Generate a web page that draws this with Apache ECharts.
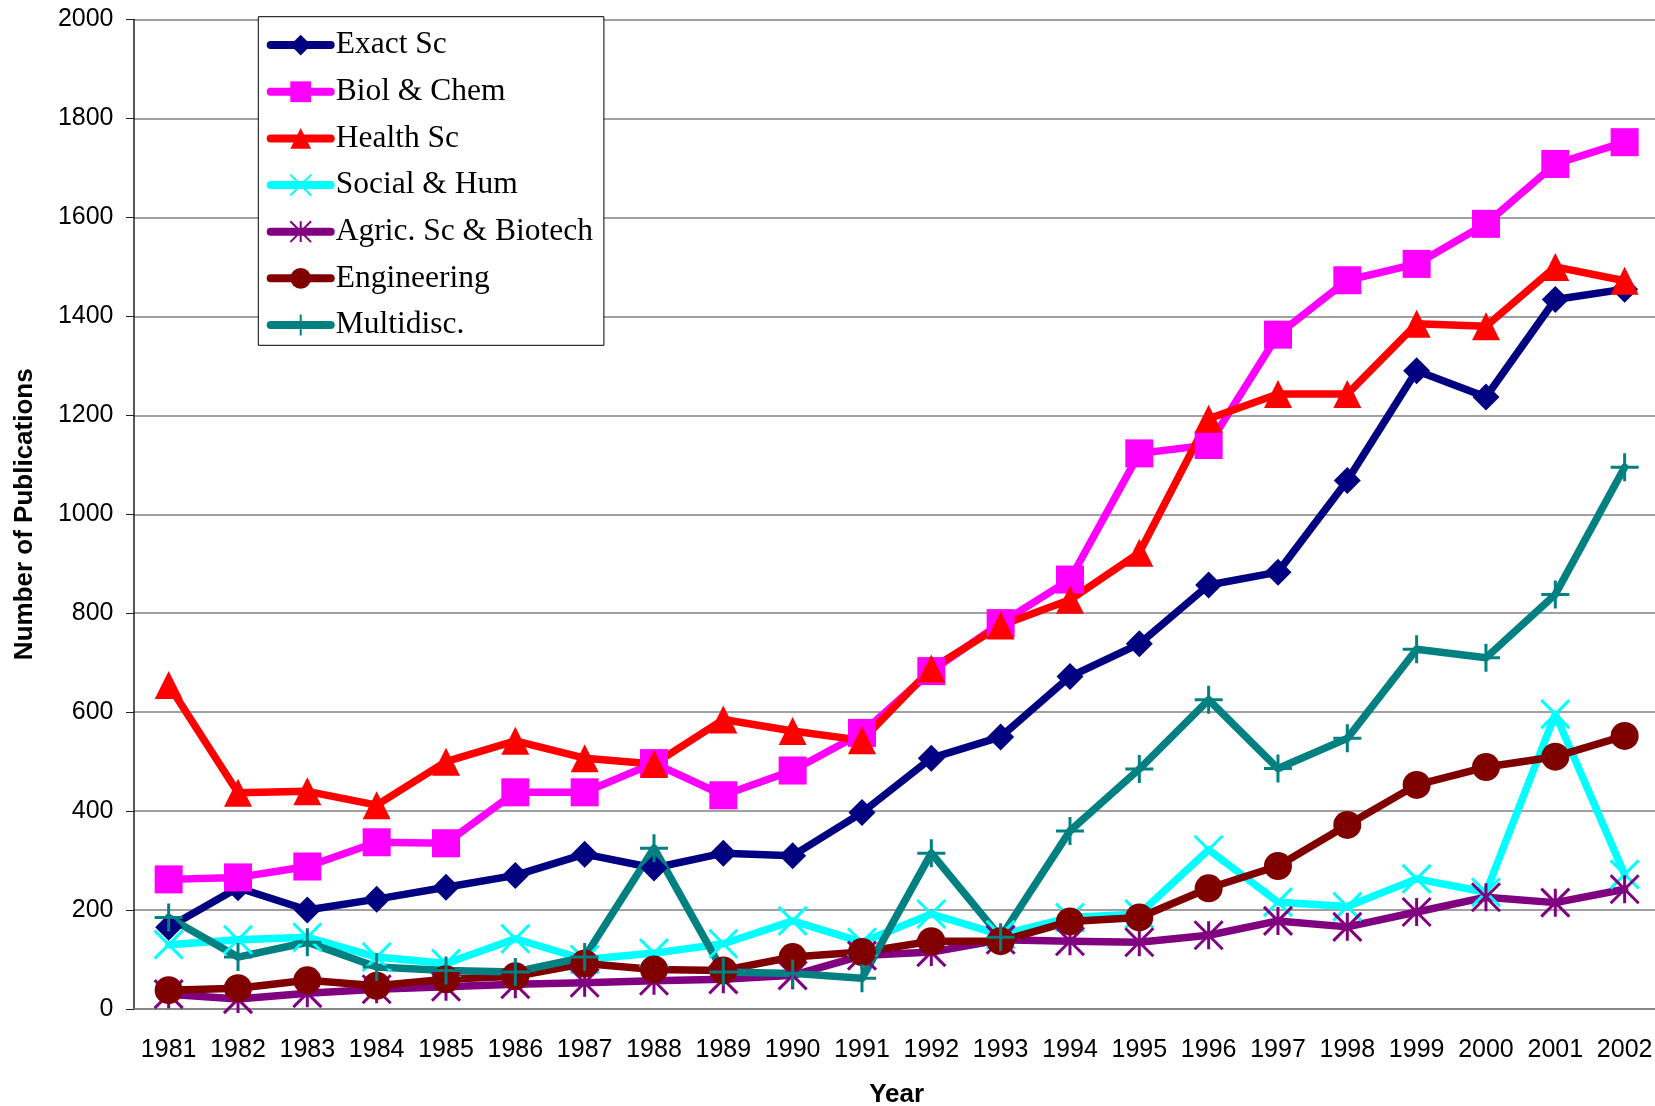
<!DOCTYPE html>
<html>
<head>
<meta charset="utf-8">
<title>Number of Publications by Field, 1981-2002</title>
<script src="https://cdn.jsdelivr.net/npm/echarts@6/dist/echarts.min.js"></script>
<style>
  html, body { margin: 0; padding: 0; background: #ffffff; }
  #chart { width: 1655px; height: 1106px; }
</style>
</head>
<body>
<div id="chart"></div>
<script>
// Publication years
const years = ['1981','1982','1983','1984','1985','1986','1987','1988','1989','1990','1991',
               '1992','1993','1994','1995','1996','1997','1998','1999','2000','2001','2002'];

// Publications per field
const exactSc = [165, 245, 200, 222, 246, 270, 313, 285, 315, 310, 397,
                 507, 550, 672, 738, 857, 883, 1068, 1290, 1237, 1434, 1455];
const biolChem = [262, 266, 288, 337, 335, 438, 438, 497, 432, 482, 558,
                  683, 780, 868, 1123, 1140, 1363, 1473, 1506, 1587, 1708, 1752];
const healthSc = [655, 437, 440, 412, 500, 542, 507, 495, 585, 562, 543,
                  688, 775, 827, 922, 1193, 1243, 1243, 1385, 1380, 1500, 1472];
const socialHum = [130, 140, 145, 105, 92, 142, 100, 113, 132, 178, 135,
                   192, 150, 185, 192, 322, 216, 207, 263, 236, 596, 272];
const agricBiotech = [30, 20, 32, 40, 45, 50, 53, 57, 60, 68, 108,
                      115, 140, 137, 135, 149, 178, 166, 196, 226, 215, 242];
const engineering = [38, 42, 58, 47, 60, 66, 92, 80, 78, 105, 115,
                     137, 137, 177, 185, 244, 289, 372, 453, 489, 510, 552];
const multidisc = [185, 105, 135, 85, 78, 75, 105, 325, 75, 72, 62,
                   315, 145, 360, 485, 625, 486, 547, 727, 710, 838, 1095];

// Value axis ticks
const yTicks = [0, 200, 400, 600, 800, 1000, 1200, 1400, 1600, 1800, 2000];

// Stroke-only marker shapes
const CROSS = 'path://M0,0L10,10M10,0L0,10';
const STAR = 'path://M0,0L10,10M10,0L0,10M5,0L5,10';
const PLUS = 'path://M5,0L5,10M0,5L10,5';

function lineSeries(name, data, color, symbol, size, stroked) {
  return {
    name: name,
    type: 'line',
    data: data,
    symbol: symbol,
    symbolSize: size,
    showAllSymbol: true,
    lineStyle: { color: color, width: 7.5, cap: 'round', join: 'round' },
    itemStyle: stroked
      ? { color: color, borderColor: color, borderWidth: 3 }
      : { color: color, borderWidth: 0 },
    emphasis: { disabled: true },
    animation: false
  };
}

const chart = echarts.init(document.getElementById('chart'), null, { renderer: 'canvas' });

chart.setOption({
  backgroundColor: '#ffffff',
  animation: false,
  grid: {
    left: 134, top: 19.5, width: 1525.3, bottom: 97,
    containLabel: false,
    outerBoundsMode: 'none'
  },
  legend: {
    orient: 'vertical',
    left: 258.3,
    top: 16.7,
    padding: [12.4, 11, 4.3, 8.4],
    itemWidth: 60,
    itemHeight: 26,
    itemGap: 14.65,
    borderColor: '#000000',
    borderWidth: 1,
    backgroundColor: '#ffffff',
    lineStyle: { width: 8, cap: 'round' },
    textStyle: { fontFamily: 'Liberation Serif', fontSize: 31.5, color: '#000000' },
    data: ['Exact Sc', 'Biol & Chem', 'Health Sc', 'Social & Hum', 'Agric. Sc & Biotech', 'Engineering', 'Multidisc.']
  },
  xAxis: {
    type: 'category',
    data: years,
    boundaryGap: true,
    name: 'Year',
    nameLocation: 'middle',
    nameGap: 72.6,
    nameTextStyle: { fontFamily: 'Liberation Sans', fontSize: 26, fontWeight: 'bold', color: '#000000' },
    axisLine: { lineStyle: { color: '#808080', width: 1.5 } },
    axisTick: { alignWithLabel: false, length: 8, lineStyle: { color: '#404040', width: 1 } },
    axisLabel: { fontFamily: 'Liberation Sans', fontSize: 25, color: '#000000', margin: 29, interval: 0 },
    splitLine: { show: false }
  },
  yAxis: {
    type: 'value',
    min: yTicks[0],
    max: yTicks[yTicks.length - 1],
    interval: yTicks[1] - yTicks[0],
    name: 'Number of Publications',
    nameLocation: 'middle',
    nameGap: 95.8,
    nameRotate: 90,
    nameTextStyle: { fontFamily: 'Liberation Sans', fontSize: 26, fontWeight: 'bold', color: '#000000' },
    axisLine: { show: true, lineStyle: { color: '#202020', width: 1.5 } },
    axisTick: { show: true, length: 8, lineStyle: { color: '#202020', width: 1 } },
    axisLabel: {
      fontFamily: 'Liberation Sans', fontSize: 25, color: '#000000', margin: 20.5,
      formatter: function (v) { return String(v); }
    },
    splitLine: { show: true, lineStyle: { color: '#808080', width: 1.5 } }
  },
  series: [
    lineSeries('Exact Sc', exactSc, '#000080', 'diamond', 27, false),
    lineSeries('Biol & Chem', biolChem, '#FF00FF', 'rect', 28, false),
    lineSeries('Health Sc', healthSc, '#FF0000', 'triangle', 28, false),
    lineSeries('Social & Hum', socialHum, '#00FFFF', CROSS, 28, true),
    lineSeries('Agric. Sc & Biotech', agricBiotech, '#800080', STAR, 28, true),
    lineSeries('Engineering', engineering, '#800000', 'circle', 28, false),
    lineSeries('Multidisc.', multidisc, '#008080', PLUS, 28, true)
  ]
});
</script>
</body>
</html>
